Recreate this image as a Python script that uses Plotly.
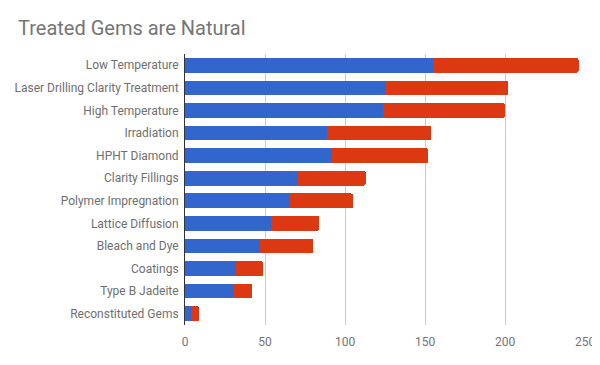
import plotly.graph_objects as go

categories = ["Low Temperature", "Laser Drilling Clarity Treatment", "High Temperature",
              "Irradiation", "HPHT Diamond", "Clarity Fillings", "Polymer Impregnation",
              "Lattice Diffusion", "Bleach and Dye", "Coatings", "Type B Jadeite",
              "Reconstituted Gems"]
series_a = [155, 125, 124, 89, 92, 70, 65, 54, 47, 32, 30, 4]
series_b = [91, 77, 76, 65, 60, 43, 40, 30, 33, 17, 12, 5]
x_ticks = [0, 50, 100, 150, 200, 250]

# The page body has an 8px default margin; size the figure to fit the 600x365 window.
W, H = 592, 357

fig = go.Figure()
fig.add_trace(go.Bar(y=categories, x=series_a, orientation="h", marker_color="#3366CC",
                     marker_line_width=0, name="A"))
fig.add_trace(go.Bar(y=categories, x=series_b, orientation="h", marker_color="#DC3912",
                     marker_line_width=0, name="B"))

fig.update_layout(
    barmode="stack",
    bargap=0.35,
    barcornerradius=2,
    width=W, height=H,
    margin=dict(l=177, r=15, t=46, b=40, autoexpand=False),
    paper_bgcolor="white", plot_bgcolor="white",
    showlegend=False,
    font=dict(family="Roboto", size=12, color="#757575"),
    title=dict(text="Treated Gems are Natural", x=10 / W, xref="container", xanchor="left",
               y=1 - 20 / H, yref="container", yanchor="middle",
               font=dict(family="Roboto", size=20, color="#757575")),
)
fig.update_xaxes(range=[0, 250], tickvals=x_ticks, showgrid=True, gridcolor="#CCCCCC",
                 gridwidth=1, zeroline=False, showline=False, automargin=False,
                 tickfont=dict(color="#757575", size=12), ticks="", ticklen=0,
                 ticklabelstandoff=8)
fig.update_yaxes(autorange="reversed", showline=True, linecolor="#333333", linewidth=1,
                 automargin=False, ticks="", tickfont=dict(color="#6f6f6f", size=12),
                 showgrid=False, ticklabelstandoff=3)

fig.write_html("out.html")
